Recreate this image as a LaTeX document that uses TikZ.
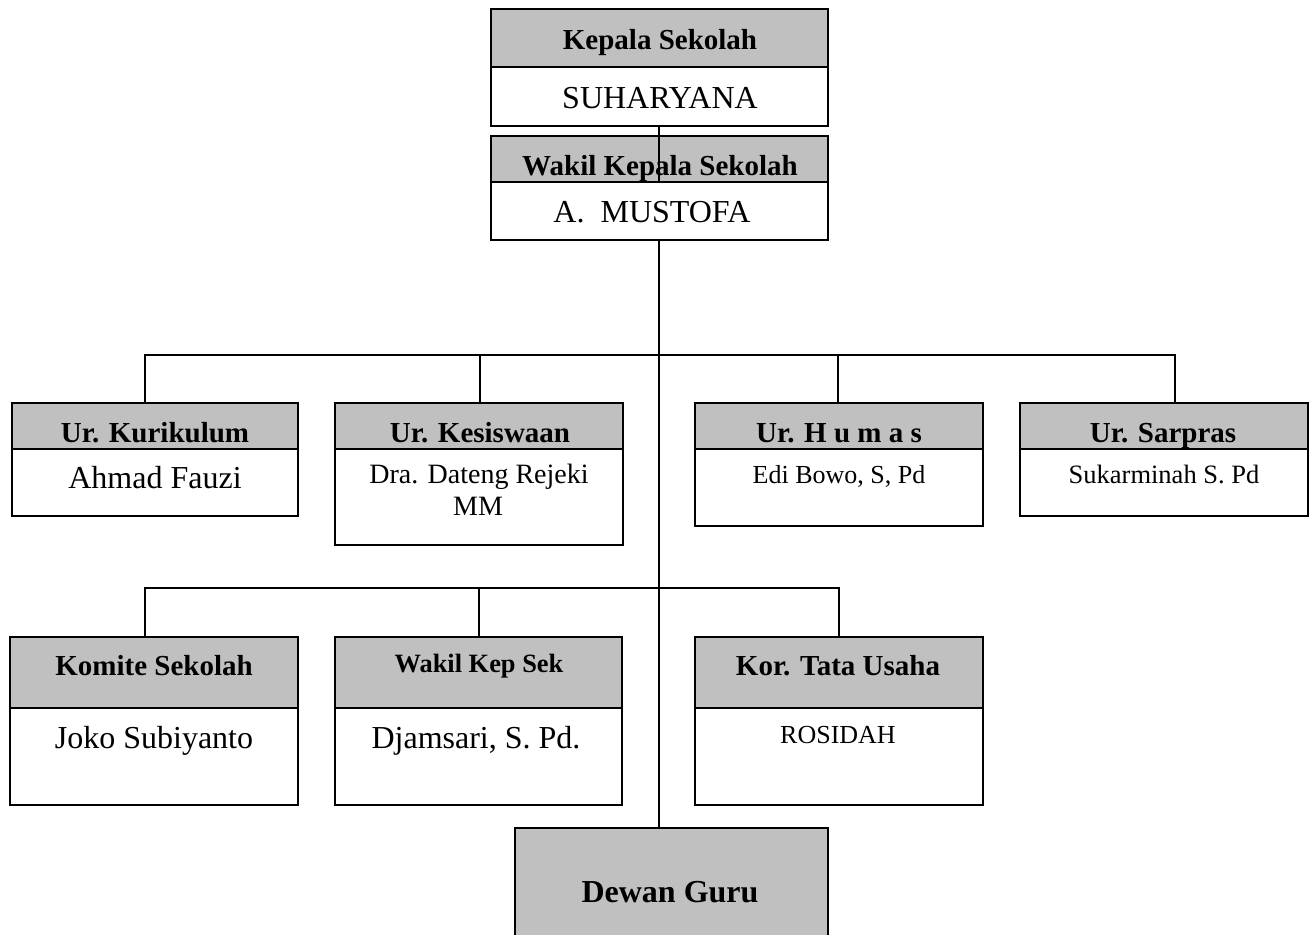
\documentclass[tikz,border=0pt]{standalone}
\usepackage{fontspec}
\setmainfont{Liberation Serif}
\definecolor{hdrgray}{HTML}{C0C0C0}
\newcommand{\fs}[1]{\fontsize{#1}{#1}\selectfont}
\newcommand{\orgbox}[6]{%
  \node[hdr, minimum width={#3-#2}, minimum height={#5-#4}] (#1h) at ({(#2+#3)/2},{(#4+#5)/2}) {};
  \node[bdy, minimum width={#3-#2}, minimum height={#6-#5}] (#1b) at ({(#2+#3)/2},{(#5+#6)/2}) {};
}
\begin{document}
\begin{tikzpicture}[x=1pt,y=-1pt,
  hdr/.style={draw=black, line width=1.7pt, fill=hdrgray, rectangle, inner sep=0pt, outer sep=0pt},
  bdy/.style={draw=black, line width=1.7pt, fill=white, rectangle, inner sep=0pt, outer sep=0pt},
  htxt/.style={anchor=base, inner sep=0pt, font=\bfseries},
  btxt/.style={anchor=base, inner sep=0pt},
  conn/.style={draw=black, line width=1.3pt}]
\useasboundingbox (0,0) rectangle (1314,934);
\clip (0,0) rectangle (1314,934);
% boxes
\orgbox{kep}{491}{828}{9}{67}{126}
\orgbox{wak}{491}{828}{136}{182}{240}
\orgbox{kur}{12}{298}{403}{449}{516}
\orgbox{kes}{335}{623}{403}{449}{545}
\orgbox{hum}{695}{983}{403}{449}{526}
\orgbox{sar}{1020}{1308}{403}{449}{516}
\orgbox{kom}{10}{298}{637}{708}{805}
\orgbox{wks}{335}{622}{637}{708}{805}
\orgbox{kor}{695}{983}{637}{708}{805}
\node[hdr, minimum width=313, minimum height=130] (dew) at (671.5,893) {};
% connector points
\coordinate (ka) at (659,126);
\coordinate (kw) at (659,182);
\coordinate (wb) at (659,240);
\coordinate (dt) at (659,828);
\coordinate (bus1) at (659,355);
\coordinate (bus2) at (659,588);
\coordinate (kurT) at (145,403);
\coordinate (kesT) at (480,403);
\coordinate (humT) at (838,403);
\coordinate (sarT) at (1175,403);
\coordinate (komT) at (145,637);
\coordinate (wksT) at (479,637);
\coordinate (korT) at (839,637);
% connectors
\draw[conn] (ka) -- (kw);
\draw[conn] (wb) -- (dt);
\draw[conn] (kurT) |- (bus1);
\draw[conn] (kesT) |- (bus1);
\draw[conn] (humT) |- (bus1);
\draw[conn] (sarT) |- (bus1);
\draw[conn] (komT) |- (bus2);
\draw[conn] (wksT) |- (bus2);
\draw[conn] (korT) |- (bus2);
% texts
\node[htxt, font=\bfseries\fs{29}] (t1) at (660,49) {Kepala Sekolah};
\node[btxt, font=\fs{32}] (t2) at (660,108) {SUHARYANA};
\node[htxt, font=\bfseries\fs{29}] (t3) at (660,175) {Wakil Kepala Sekolah};
\node[btxt, font=\fs{32}] (t4) at (652,222) {A.\ \ MUSTOFA};
\node[htxt, font=\bfseries\fs{29}] (t5) at (155,442) {Ur. Kurikulum};
\node[btxt, font=\fs{32}] (t6) at (155,488) {Ahmad Fauzi};
\node[htxt, font=\bfseries\fs{29}] (t7) at (480,442) {Ur. Kesiswaan};
\node[btxt, font=\fs{28}] (t8) at (479,483) {Dra. Dateng Rejeki};
\node[btxt, font=\fs{28}] (t9) at (478,515) {MM};
\node[htxt, font=\bfseries\fs{29}] (t10) at (839,442) {Ur. H u m a s};
\node[btxt, font=\fs{26}] (t11) at (839,483) {Edi Bowo, S, Pd};
\node[htxt, font=\bfseries\fs{29}] (t12) at (1163,442) {Ur. Sarpras};
\node[btxt, font=\fs{26.5}] (t13) at (1164,483) {Sukarminah S. Pd};
\node[htxt, font=\bfseries\fs{29}] (t14) at (154,675) {Komite Sekolah};
\node[htxt, font=\bfseries\fs{26.4}] (t15) at (479,672) {Wakil Kep Sek};
\node[htxt, font=\bfseries\fs{29}] (t16) at (838,675) {Kor. Tata Usaha};
\node[btxt, font=\fs{32}] (t17) at (154,748) {Joko Subiyanto};
\node[btxt, font=\fs{32}] (t18) at (476,748) {Djamsari, S. Pd.};
\node[btxt, font=\fs{26}] (t19) at (838,743) {ROSIDAH};
\node[htxt, font=\bfseries\fs{32}] (t20) at (670,902) {Dewan Guru};
\end{tikzpicture}
\end{document}
